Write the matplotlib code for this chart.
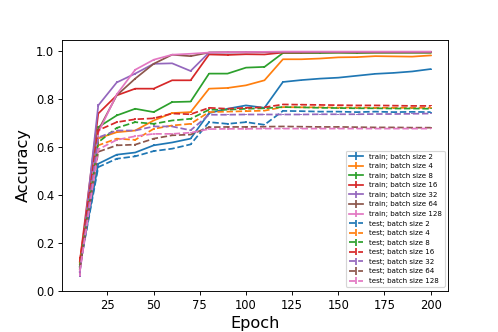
import numpy as np
import matplotlib.pyplot as plt

epochs = [10, 20, 30, 40, 50, 60, 70, 80, 90, 100, 110, 120, 130, 140, 150, 160, 170, 180, 190, 200]
batch_sizes = [2, 4, 8, 16, 32, 64, 128]

train_2 = [0.10, 0.53, 0.568, 0.577, 0.607, 0.619, 0.635, 0.742, 0.760, 0.774, 0.764, 0.872, 0.880, 0.886, 0.890, 0.898, 0.906, 0.910, 0.916, 0.926]
train_4 = [0.11, 0.636, 0.662, 0.669, 0.711, 0.742, 0.746, 0.844, 0.847, 0.858, 0.879, 0.967, 0.967, 0.970, 0.975, 0.976, 0.980, 0.979, 0.978, 0.983]
train_8 = [0.10, 0.683, 0.732, 0.760, 0.746, 0.788, 0.790, 0.907, 0.907, 0.932, 0.935, 0.993, 0.993, 0.993, 0.994, 0.993, 0.994, 0.994, 0.994, 0.994]
train_16 = [0.12, 0.740, 0.816, 0.844, 0.844, 0.879, 0.879, 0.987, 0.985, 0.988, 0.987, 0.995, 0.995, 0.996, 0.996, 0.996, 0.996, 0.996, 0.996, 0.996]
train_32 = [0.077, 0.774, 0.870, 0.907, 0.948, 0.950, 0.918, 0.995, 0.995, 0.996, 0.996, 0.997, 0.997, 0.997, 0.997, 0.997, 0.997, 0.997, 0.997, 0.997]
train_64 = [0.09, 0.670, 0.816, 0.886, 0.948, 0.986, 0.980, 0.995, 0.996, 0.996, 0.997, 0.998, 0.998, 0.998, 0.998, 0.998, 0.998, 0.998, 0.998, 0.998]
train_128 = [0.08, 0.660, 0.820, 0.923, 0.965, 0.986, 0.990, 0.995, 0.997, 0.997, 0.998, 0.999, 0.999, 0.999, 0.999, 0.999, 0.999, 0.999, 0.999, 0.999]

test_2 = [0.10, 0.516, 0.551, 0.561, 0.583, 0.593, 0.611, 0.704, 0.697, 0.704, 0.693, 0.751, 0.750, 0.748, 0.748, 0.746, 0.748, 0.746, 0.747, 0.746]
test_4 = [0.11, 0.607, 0.635, 0.630, 0.676, 0.690, 0.697, 0.746, 0.748, 0.750, 0.752, 0.767, 0.766, 0.766, 0.765, 0.765, 0.764, 0.764, 0.764, 0.764]
test_8 = [0.10, 0.620, 0.680, 0.704, 0.697, 0.711, 0.718, 0.756, 0.756, 0.760, 0.762, 0.767, 0.766, 0.764, 0.763, 0.762, 0.762, 0.761, 0.761, 0.760]
test_16 = [0.12, 0.670, 0.704, 0.716, 0.720, 0.740, 0.737, 0.764, 0.760, 0.764, 0.766, 0.778, 0.777, 0.776, 0.775, 0.774, 0.774, 0.773, 0.772, 0.772]
test_32 = [0.077, 0.640, 0.669, 0.669, 0.686, 0.686, 0.670, 0.735, 0.735, 0.736, 0.736, 0.736, 0.736, 0.737, 0.737, 0.737, 0.738, 0.738, 0.739, 0.740]
test_64 = [0.09, 0.580, 0.607, 0.610, 0.635, 0.649, 0.652, 0.683, 0.684, 0.684, 0.685, 0.686, 0.685, 0.684, 0.684, 0.683, 0.682, 0.682, 0.681, 0.681]
test_128 = [0.08, 0.590, 0.630, 0.645, 0.655, 0.655, 0.660, 0.675, 0.676, 0.676, 0.677, 0.677, 0.677, 0.677, 0.677, 0.677, 0.677, 0.677, 0.677, 0.677]

errs = [0.02, 0.005, 0.004, 0.004, 0.004, 0.003, 0.003, 0.003, 0.003, 0.003, 0.003, 0.002, 0.002, 0.002, 0.002, 0.002, 0.002, 0.002, 0.002, 0.002]

train = [train_2, train_4, train_8, train_16, train_32, train_64, train_128]
test = [test_2, test_4, test_8, test_16, test_32, test_64, test_128]

plt.figure(figsize=(6, 4), dpi=83)
for i, bs in enumerate(batch_sizes):
    plt.errorbar(epochs, train[i], yerr=errs, color='C%d' % i, label='train; batch size %d' % bs)
for i, bs in enumerate(batch_sizes):
    plt.errorbar(epochs, test[i], yerr=errs, color='C%d' % i, linestyle='--', label='test; batch size %d' % bs)

plt.ylim(bottom=0)
plt.xticks(fontsize=10)
plt.yticks(fontsize=10)
plt.xlabel('Epoch', fontsize=14)
plt.ylabel('Accuracy', fontsize=14)
plt.legend(loc='lower right', fontsize=6.2)
plt.subplots_adjust(left=0.125, right=0.9, bottom=0.125, top=0.88)
plt.savefig('out.png')
